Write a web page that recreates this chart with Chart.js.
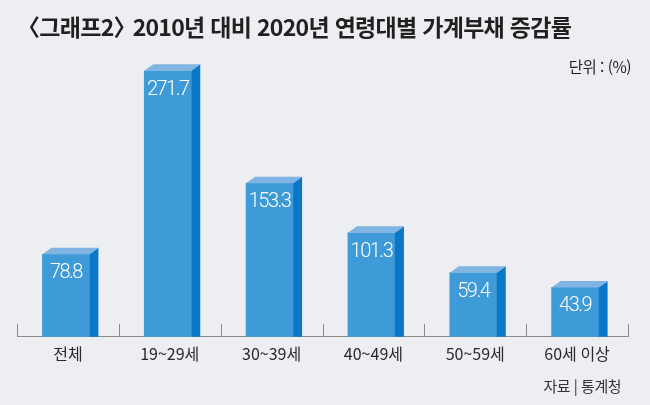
<!DOCTYPE html>
<html lang="ko">
<head>
<meta charset="utf-8">
<script src="https://cdn.jsdelivr.net/npm/chart.js@4.4.1/dist/chart.umd.min.js"></script>
<style>
  html, body { margin: 0; padding: 0; background: #edeef2; }
  #wrap { position: relative; width: 650px; height: 405px; overflow: hidden; background: #edeef2; }
  #chart { position: absolute; left: 0; top: 0; }
  .txt { position: absolute; font-family: "Noto Sans CJK KR", "Noto Sans", sans-serif; color: #231f20; white-space: nowrap; }
  #title { left: 26px; top: 9px; font-size: 23px; font-weight: 700; letter-spacing: -0.7px; }
  #title .lb { margin-left: -9px; }
  #title .rb { margin-right: -9px; }
  #unit { right: 19px; top: 55px; font-size: 15.5px; letter-spacing: -0.5px; }
  #source { right: 29px; top: 375px; font-size: 15px; letter-spacing: -0.5px; color: #333; }
</style>
</head>
<body>
<div id="wrap">
  <canvas id="chart" width="650" height="405"></canvas>
  <div class="txt" id="title"><span class="lb">〈</span>그래프2<span class="rb">〉</span> 2010년 대비 2020년 연령대별 가계부채 증감률</div>
  <div class="txt" id="unit">단위 : (%)</div>
  <div class="txt" id="source">자료 | 통계청</div>
</div>
<script>
const categories = ["전체", "19~29세", "30~39세", "40~49세", "50~59세", "60세 이상"];
const values = [78.8, 271.7, 153.3, 101.3, 59.4, 43.9];
const valueLabels = ["78.8", "271.7", "153.3", "101.3", "59.4", "43.9"];
const Y_MIN = -8;
const Y_MAX = 283;

const FRONT = "#3e9bd8";
const SIDE = "#0a77c8";
const TOP = "#80b4e2";
const SHIFT = -2;
const DX = 9;
const DY = 6.5;

const bar3d = {
  id: "bar3d",
  beforeDatasetsDraw(chart) {
    chart.ctx.save();
    chart.ctx.translate(SHIFT, 0);
  },
  afterDatasetsDraw(chart) {
    const ctx = chart.ctx;
    const meta = chart.getDatasetMeta(0);
    meta.data.forEach((el, i) => {
      const p = el.getProps(["x", "y", "base", "width"], true);
      const L = p.x - p.width / 2, R = p.x + p.width / 2, T = p.y, B = p.base;
      ctx.fillStyle = SIDE;
      ctx.beginPath();
      ctx.moveTo(R, T); ctx.lineTo(R + DX, T - DY); ctx.lineTo(R + DX, B); ctx.lineTo(R, B);
      ctx.closePath(); ctx.fill();
      ctx.fillStyle = TOP;
      ctx.beginPath();
      ctx.moveTo(L, T); ctx.lineTo(L + DX, T - DY); ctx.lineTo(R + DX, T - DY); ctx.lineTo(R, T);
      ctx.closePath(); ctx.fill();
      ctx.fillStyle = "#ffffff";
      ctx.font = "300 20px Roboto, 'Liberation Sans', sans-serif";
      if ("letterSpacing" in ctx) ctx.letterSpacing = "-1.5px";
      ctx.textAlign = "center";
      ctx.textBaseline = "middle";
      ctx.fillText(valueLabels[i], p.x, T + 19);
      if ("letterSpacing" in ctx) ctx.letterSpacing = "0px";
    });
    ctx.restore();
  },
  afterDraw(chart) {
    const ctx = chart.ctx;
    const xs = chart.scales.x;
    const n = categories.length;
    const yb = xs.top;
    ctx.save();
    ctx.strokeStyle = "#8c8c8c";
    ctx.lineWidth = 1;
    for (let i = 0; i <= n; i++) {
      const x = Math.round(xs.left + i * (xs.width / n)) + 0.5;
      ctx.beginPath();
      ctx.moveTo(x, yb - 13);
      ctx.lineTo(x, yb);
      ctx.stroke();
    }
    ctx.restore();
  }
};

new Chart(document.getElementById("chart"), {
  type: "bar",
  data: {
    labels: categories,
    datasets: [{
      data: values,
      base: Y_MIN,
      backgroundColor: FRONT,
      borderWidth: 0,
      barThickness: 47
    }]
  },
  options: {
    responsive: false,
    animation: false,
    events: [],
    layout: { padding: { left: 17, right: 22, top: 60, bottom: 33 } },
    plugins: { legend: { display: false }, tooltip: { enabled: false }, title: { display: false } },
    scales: {
      y: { display: false, min: Y_MIN, max: Y_MAX },
      x: {
        offset: true,
        grid: { display: false, drawTicks: false },
        border: { display: true, color: "#8c8c8c", width: 1 },
        ticks: {
          color: "#2a2a2a",
          padding: 8,
          font: { family: "'Noto Sans CJK KR', 'Noto Sans', sans-serif", size: 16 }
        }
      }
    }
  },
  plugins: [bar3d]
});
</script>
</body>
</html>
